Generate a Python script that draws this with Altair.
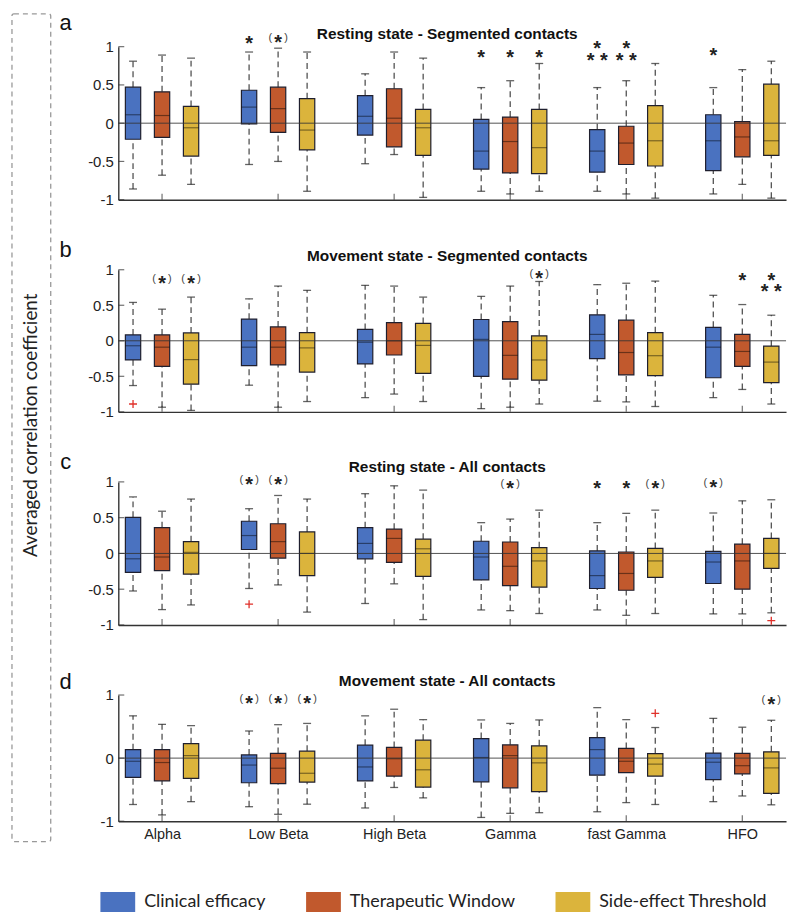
import altair as alt
import pandas as pd

BANDS = ["Alpha", "Low Beta", "High Beta", "Gamma", "fast Gamma", "HFO"]
SERIES = ["Clinical efficacy", "Therapeutic Window", "Side-effect Threshold"]
COLORS = ["#4a72c0", "#c1592d", "#dbb43c"]
TITLES = ["Resting state - Segmented contacts", "Movement state - Segmented contacts",
          "Resting state - All contacts", "Movement state - All contacts"]
LETTERS = ["a", "b", "c", "d"]
Y_LABEL = "Averaged correlation coefficient"

# order inside each list: for every band -> Clinical efficacy, Therapeutic Window, Side-effect Threshold
A_LO  = [-0.86, -0.68, -0.80, -0.54, -0.50, -0.89, -0.53, -0.41, -0.97, -0.89, -0.925, -0.89, -0.89, -0.925, -0.98, -0.925, -0.80, -0.98]
A_Q1  = [-0.21, -0.185, -0.43, -0.01, -0.12, -0.35, -0.155, -0.31, -0.42, -0.60, -0.65, -0.66, -0.64, -0.54, -0.56, -0.62, -0.44, -0.42]
A_MED = [0.11, 0.10, -0.06, 0.21, 0.19, -0.09, 0.09, 0.065, -0.06, -0.365, -0.24, -0.32, -0.365, -0.26, -0.23, -0.23, -0.18, -0.23]
A_Q3  = [0.47, 0.41, 0.22, 0.43, 0.47, 0.32, 0.36, 0.45, 0.18, 0.05, 0.08, 0.18, -0.085, -0.04, 0.23, 0.11, 0.02, 0.51]
A_HI  = [0.81, 0.89, 0.85, 0.93, 0.98, 0.93, 0.645, 0.93, 0.85, 0.465, 0.555, 0.78, 0.465, 0.555, 0.78, 0.465, 0.70, 0.81]

B_LO  = [-0.63, -0.935, -0.98, -0.625, -0.935, -0.855, -0.80, -0.75, -0.855, -0.955, -0.935, -0.89, -0.85, -0.86, -0.925, -0.80, -0.685, -0.89]
B_Q1  = [-0.27, -0.36, -0.61, -0.35, -0.34, -0.44, -0.325, -0.20, -0.46, -0.50, -0.54, -0.555, -0.25, -0.48, -0.49, -0.52, -0.36, -0.59]
B_MED = [-0.07, -0.09, -0.265, -0.09, -0.09, -0.10, -0.02, 0.0, -0.065, 0.02, -0.205, -0.27, 0.09, -0.165, -0.21, -0.09, -0.15, -0.30]
B_Q3  = [0.083, 0.083, 0.11, 0.305, 0.195, 0.115, 0.16, 0.255, 0.245, 0.30, 0.27, 0.07, 0.365, 0.29, 0.115, 0.19, 0.09, -0.075]
B_HI  = [0.54, 0.445, 0.615, 0.59, 0.77, 0.71, 0.78, 0.77, 0.615, 0.625, 0.77, 0.835, 0.79, 0.81, 0.84, 0.64, 0.51, 0.36]

C_LO  = [-0.525, -0.785, -0.72, -0.49, -0.44, -0.82, -0.70, -0.425, -0.925, -0.79, -0.80, -0.84, -0.79, -0.865, -0.84, -0.845, -0.845, -0.83]
C_Q1  = [-0.265, -0.24, -0.29, 0.055, -0.065, -0.31, -0.075, -0.125, -0.32, -0.37, -0.45, -0.47, -0.49, -0.515, -0.335, -0.42, -0.50, -0.21]
C_MED = [-0.075, -0.05, 0.015, 0.25, 0.165, 0.0, 0.14, 0.21, 0.065, -0.05, -0.18, -0.105, -0.31, -0.28, -0.105, -0.12, -0.105, 0.0]
C_Q3  = [0.505, 0.36, 0.165, 0.45, 0.415, 0.30, 0.36, 0.34, 0.20, 0.17, 0.16, 0.08, 0.035, 0.02, 0.07, 0.03, 0.13, 0.21]
C_HI  = [0.79, 0.59, 0.76, 0.625, 0.81, 0.76, 0.835, 0.945, 0.885, 0.43, 0.48, 0.605, 0.43, 0.56, 0.605, 0.565, 0.735, 0.75]

D_LO  = [-0.735, -0.90, -0.69, -0.77, -0.89, -0.73, -0.79, -0.465, -0.63, -0.94, -0.875, -0.865, -0.85, -0.705, -0.735, -0.69, -0.60, -0.74]
D_Q1  = [-0.305, -0.36, -0.32, -0.39, -0.405, -0.38, -0.36, -0.285, -0.46, -0.375, -0.47, -0.53, -0.27, -0.23, -0.285, -0.34, -0.25, -0.56]
D_MED = [-0.05, -0.07, 0.04, -0.11, -0.16, -0.24, -0.14, -0.01, -0.185, 0.01, 0.04, -0.075, 0.135, -0.05, -0.095, -0.065, -0.12, -0.155]
D_Q3  = [0.135, 0.135, 0.23, 0.05, 0.075, 0.11, 0.205, 0.17, 0.285, 0.31, 0.21, 0.195, 0.325, 0.155, 0.07, 0.08, 0.075, 0.10]
D_HI  = [0.67, 0.535, 0.515, 0.43, 0.53, 0.55, 0.67, 0.775, 0.61, 0.605, 0.55, 0.605, 0.80, 0.61, 0.485, 0.63, 0.49, 0.60]

STATS = [
    (A_LO, A_Q1, A_MED, A_Q3, A_HI),
    (B_LO, B_Q1, B_MED, B_Q3, B_HI),
    (C_LO, C_Q1, C_MED, C_Q3, C_HI),
    (D_LO, D_Q1, D_MED, D_Q3, D_HI),
]

# outliers (red +)
OUT_PANEL = [1, 2, 2, 3]
OUT_BAND = [0, 1, 5, 4]
OUT_SERIES = [0, 0, 2, 2]
OUT_Y = [-0.89, -0.71, -0.94, 0.71]

# significance marks
STAR_PANEL = [0, 0, 0, 0, 0, 0, 0, 0, 0, 0,
              1, 1, 1, 1, 1, 1,
              2, 2, 2, 2, 2, 2, 2,
              3, 3, 3, 3]
STAR_BAND = [1, 1, 3, 3, 3, 4, 4, 4, 4, 5,
             0, 0, 3, 5, 5, 5,
             1, 1, 3, 4, 4, 4, 5,
             1, 1, 1, 5]
STAR_SERIES = [0, 1, 0, 1, 2, 0, 0, 1, 1, 0,
               1, 2, 2, 1, 2, 2,
               0, 1, 1, 0, 1, 2, 0,
               0, 1, 2, 2]
STAR_TEXT = ["*", "(*)", "*", "*", "*", "*", "**", "*", "**", "*",
             "(*)", "(*)", "(*)", "*", "*", "**",
             "(*)", "(*)", "(*)", "*", "*", "(*)", "(*)",
             "(*)", "(*)", "(*)", "(*)"]
STAR_Y = [1.105, 1.11, 0.91, 0.91, 0.91, 1.03, 0.88, 1.03, 0.88, 0.946,
          0.87, 0.87, 0.94, 0.917, 0.917, 0.755,
          1.03, 1.03, 0.975, 0.97, 0.97, 0.97, 0.98,
          0.94, 0.94, 0.94, 0.92]

HEIGHTS = [154, 143, 144, 127]
WIDTH = 672
OFFSET = 0.25
HALF = 0.066
X_DOMAIN = [0.623, 6.377]
LETTER_DY = [-24, -20, -20, -13]
TITLE_DY = [-13, -14, -15, -14]

FONT = "Liberation Sans"
LEG_FONT = "Liberation Sans Narrow, Lato, sans-serif"
AX = "#333333"
NB = "\u00a0"


def xpos(b, s):
    return b + 1 + (s - 1) * OFFSET


def panel(p):
    lo, q1, med, q3, hi = STATS[p]
    rows, wh, caps = [], [], []
    for i in range(len(lo)):
        b, s = divmod(i, 3)
        x = xpos(b, s)
        rows.append(dict(x=x, xl=x - HALF, xr=x + HALF, q1=q1[i], q3=q3[i], med=med[i], series=SERIES[s]))
        wh.append(dict(x=x, y=lo[i], y2=q1[i]))
        wh.append(dict(x=x, y=q3[i], y2=hi[i]))
        caps.append(dict(x=x, y=lo[i]))
        caps.append(dict(x=x, y=hi[i]))
    boxes = pd.DataFrame(rows)
    whisk = pd.DataFrame(wh)
    capdf = pd.DataFrame(caps)

    last = p == 3
    yvals = [-1, 0, 1] if last else [-1, -0.5, 0, 0.5, 1]
    xscale = alt.Scale(domain=X_DOMAIN, nice=False, zero=False)
    yscale = alt.Scale(domain=[-1, 1], nice=False, zero=False)
    names = "[" + ",".join("'%s'" % n for n in BANDS) + "]"
    xaxis = alt.Axis(values=[1, 2, 3, 4, 5, 6], ticks=False, grid=False, title=None,
                     labels=last, labelExpr=names + "[datum.value - 1]",
                     labelFont=FONT, labelFontSize=14.5, labelColor="#222", labelPadding=6,
                     domainColor=AX, domainWidth=1.4)
    yaxis = alt.Axis(values=yvals, ticks=False, grid=False, title=None,
                     labelExpr="'' + datum.value", labelFont=FONT, labelFontSize=15,
                     labelColor="#222", labelPadding=5, domainColor=AX, domainWidth=1.4)

    def X(f):
        return alt.X(f, type="quantitative", scale=xscale, axis=xaxis)

    def Y(f):
        return alt.Y(f, type="quantitative", scale=yscale, axis=yaxis)

    legend = alt.Legend(orient="none", legendX=-18, legendY=843, direction="horizontal",
                        title=None, labelFont=LEG_FONT, labelFontSize=18, labelColor="#222",
                        labelLimit=400,
                        symbolType="M-1,-0.571H1V0.571H-1Z", symbolSize=1225,
                        symbolStrokeWidth=0, symbolOpacity=1, columnPadding=40,
                        labelOffset=9, padding=0)

    whisker = alt.Chart(whisk).mark_rule(color="#444", strokeWidth=1.2, strokeDash=[6, 4]).encode(
        x=X("x"), y=Y("y"), y2="y2")
    cap = alt.Chart(capdf).mark_tick(orient="horizontal", size=8, thickness=1.3, color="#222").encode(
        x=X("x"), y=Y("y"))
    box = alt.Chart(boxes).mark_bar(stroke="#1f1f2e", strokeWidth=1.2, opacity=1).encode(
        x=X("xl"), x2="xr", y=Y("q1"), y2="q3",
        color=alt.Color("series:N", scale=alt.Scale(domain=SERIES, range=COLORS), legend=legend))
    median = alt.Chart(boxes).mark_rule(color="#000", opacity=0.45, strokeWidth=1.2).encode(
        x=X("xl"), x2="xr", y=Y("med"))
    zero = alt.Chart(pd.DataFrame({"z": [0]})).mark_rule(color="#333", strokeWidth=1, opacity=0.85).encode(
        y=Y("z"))
    ytk = alt.Chart(pd.DataFrame({"v": yvals, "x0": [X_DOMAIN[0]] * len(yvals)})).mark_tick(
        orient="horizontal", size=6, thickness=1.2, xOffset=3, color=AX).encode(x=X("x0"), y=Y("v"))
    xtk = alt.Chart(pd.DataFrame({"v": [1, 2, 3, 4, 5, 6], "y0": [-1] * 6})).mark_tick(
        orient="vertical", size=6, thickness=1.2, yOffset=-3, color=AX).encode(x=X("v"), y=Y("y0"))

    layers = [whisker, cap, box, median, zero, ytk, xtk]

    od = pd.DataFrame([dict(x=xpos(OUT_BAND[k], OUT_SERIES[k]), y=OUT_Y[k])
                       for k in range(len(OUT_Y)) if OUT_PANEL[k] == p])
    if len(od):
        layers.append(alt.Chart(od).mark_point(shape="M-1,0L1,0M0,-1L0,1", size=64, filled=False,
                                               color="#e0302a", strokeWidth=1.3, opacity=1).encode(
            x=X("x"), y=Y("y")))

    sd = pd.DataFrame([dict(x=xpos(STAR_BAND[k], STAR_SERIES[k]), y=STAR_Y[k],
                            star=STAR_TEXT[k].replace("(", "").replace(")", "").replace("**", "* *"),
                            paren=("(" + NB * 4 + ")") if "(" in STAR_TEXT[k] else "")
                       for k in range(len(STAR_Y)) if STAR_PANEL[k] == p])
    layers.append(alt.Chart(sd).mark_text(font=FONT, fontSize=20, fontWeight="bold", color="#222",
                                          baseline="middle", dy=5).encode(
        x=X("x"), y=Y("y"), text="star"))
    layers.append(alt.Chart(sd).mark_text(font=FONT, fontSize=11, color="#444",
                                          baseline="middle", dy=0).encode(
        x=X("x"), y=Y("y"), text="paren"))

    ann = alt.Chart(pd.DataFrame({"t": [LETTERS[p]], "title": [TITLES[p]]}))
    layers.append(ann.mark_text(font=FONT, fontSize=22, color="#111", baseline="middle",
                                align="center").encode(
        x=alt.value(-53), y=alt.value(LETTER_DY[p]), text="t"))
    layers.append(ann.mark_text(font=FONT, fontSize=15.5, fontWeight="bold", color="#111",
                                baseline="middle", align="center").encode(
        x=alt.value(331), y=alt.value(TITLE_DY[p]), text="title"))

    if p == 0:
        frame = alt.Chart(pd.DataFrame({"t": [Y_LABEL]}))
        layers.append(frame.mark_rect(fillOpacity=0, stroke="#999", strokeWidth=1.3,
                                      strokeDash=[5, 4], cornerRadius=2).encode(
            x=alt.value(-107), x2=alt.value(-68), y=alt.value(-33), y2=alt.value(800)))
        layers.append(frame.mark_text(font=LEG_FONT, fontSize=19, color="#222", angle=270,
                                      baseline="middle", align="center").encode(
            x=alt.value(-88), y=alt.value(381), text="t"))

    return alt.layer(*layers).properties(width=WIDTH, height=HEIGHTS[p])


chart = alt.vconcat(*[panel(p) for p in range(4)], spacing=70.5, bounds="flush").configure_view(
    stroke=None).properties(padding={"left": 3, "top": 1, "right": 5, "bottom": 5})

chart.save("out.html", embed_options={"renderer": "svg", "actions": False})
